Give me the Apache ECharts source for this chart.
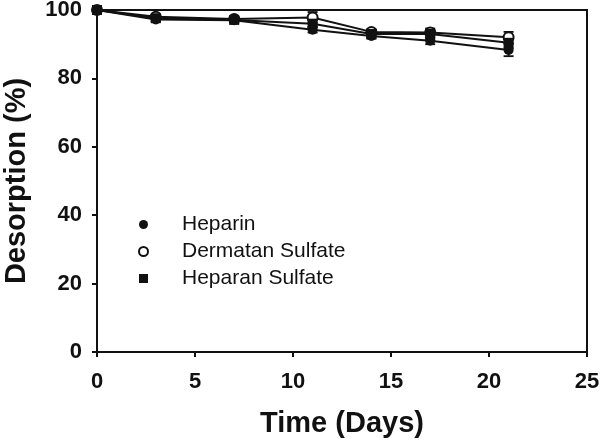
<!DOCTYPE html>
<html>
<head>
<meta charset="utf-8">
<script src="https://cdn.jsdelivr.net/npm/echarts@6/dist/echarts.min.js"></script>
<style>
  html, body { margin: 0; padding: 0; background: #fff; }
  #chart { width: 600px; height: 443px; }
</style>
</head>
<body>
<div id="chart"></div>
<script>
const days = [0, 3, 7, 11, 14, 17, 21]

const heparin = [100, 97.2, 97.0, 94.2, 92.4, 91.0, 88.3]
const heparinErr = [0, 0.6, 0.6, 0.8, 0.8, 1.0, 1.8]

const dermatan = [100, 98.0, 97.4, 97.8, 93.6, 93.4, 92.0]
const dermatanErr = [0, 0.5, 0.5, 1.6, 0.8, 0.8, 1.6]

const heparan = [100, 97.6, 97.1, 96.0, 93.0, 93.0, 90.4]
const heparanErr = [0, 0.8, 0.8, 1.0, 1.0, 1.6, 1.6]

const xTicks = [0, 5, 10, 15, 20, 25]
const yTicks = [0, 20, 40, 60, 80, 100]

const FONT = '"Liberation Sans", Arial, sans-serif'

const pairs = (vals) => days.map((d, i) => [d, vals[i]])

function errorBars (name, vals, errs) {
  return {
    name: name + ' err',
    type: 'custom',
    silent: true,
    z: 1,
    data: days.map((d, i) => [d, vals[i] - errs[i], vals[i] + errs[i]]),
    renderItem (params, api) {
      const lo = api.coord([api.value(0), api.value(1)])
      const hi = api.coord([api.value(0), api.value(2)])
      const w = 5
      const style = { stroke: '#111', lineWidth: 1.8 }
      return {
        type: 'group',
        children: [
          { type: 'line', shape: { x1: lo[0], y1: lo[1], x2: hi[0], y2: hi[1] }, style },
          { type: 'line', shape: { x1: lo[0] - w, y1: lo[1], x2: lo[0] + w, y2: lo[1] }, style },
          { type: 'line', shape: { x1: hi[0] - w, y1: hi[1], x2: hi[0] + w, y2: hi[1] }, style }
        ]
      }
    }
  }
}

function lineSeries (name, vals, symbol) {
  return {
    name,
    type: 'line',
    data: pairs(vals),
    symbol,
    symbolSize: 10,
    showAllSymbol: true,
    z: 3,
    lineStyle: { color: '#111', width: 2 },
    itemStyle: { color: '#111', borderColor: '#111', borderWidth: symbol === 'emptyCircle' ? 1.8 : 0 }
  }
}

const axisLine = { show: true, lineStyle: { color: '#111', width: 2 } }
const axisTick = { show: true, inside: false, length: 5, lineStyle: { color: '#111', width: 2 } }
const axisLabel = { color: '#111', fontFamily: FONT, fontSize: 22, fontWeight: 'bold' }
const nameStyle = { color: '#111', fontFamily: FONT, fontSize: 29, fontWeight: 'bold' }

const chart = echarts.init(document.getElementById('chart'))
chart.setOption({
  animation: false,
  backgroundColor: '#fff',
  grid: {
    left: 97, right: 13, top: 10, bottom: 91,
    outerBoundsMode: 'none', containLabel: false,
    show: true, borderColor: '#111', borderWidth: 2
  },
  xAxis: {
    type: 'value',
    min: xTicks[0],
    max: xTicks[xTicks.length - 1],
    interval: 5,
    name: 'Time (Days)',
    nameLocation: 'middle',
    nameGap: 57,
    nameTextStyle: nameStyle,
    axisLine,
    axisTick,
    axisLabel: { ...axisLabel, margin: 19 },
    splitLine: { show: false }
  },
  yAxis: {
    type: 'value',
    min: yTicks[0],
    max: yTicks[yTicks.length - 1],
    interval: 20,
    name: 'Desorption (%)',
    nameLocation: 'middle',
    nameGap: 66,
    nameTextStyle: nameStyle,
    axisLine,
    axisTick,
    axisLabel: { ...axisLabel, margin: 15 },
    splitLine: { show: false }
  },
  legend: {
    orient: 'vertical',
    left: 133,
    top: 209,
    itemWidth: 9,
    itemHeight: 9,
    itemGap: 6,
    textStyle: { color: '#111', fontFamily: FONT, fontSize: 21, padding: [0, 0, 0, 29] },
    data: [
      { name: 'Heparin', icon: 'circle' },
      { name: 'Dermatan Sulfate', icon: 'emptyCircle' },
      { name: 'Heparan Sulfate', icon: 'rect' }
    ]
  },
  series: [
    errorBars('Heparin', heparin, heparinErr),
    errorBars('Dermatan Sulfate', dermatan, dermatanErr),
    errorBars('Heparan Sulfate', heparan, heparanErr),
    lineSeries('Heparin', heparin, 'circle'),
    lineSeries('Dermatan Sulfate', dermatan, 'emptyCircle'),
    lineSeries('Heparan Sulfate', heparan, 'rect')
  ]
})
</script>
</body>
</html>
